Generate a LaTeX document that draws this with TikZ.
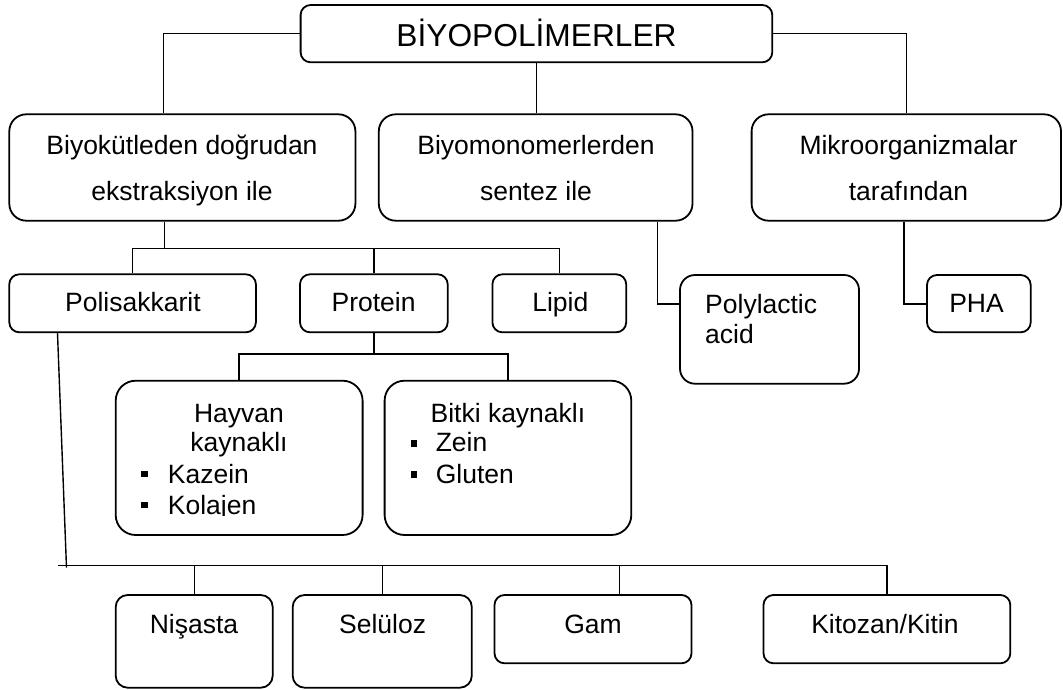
\documentclass[tikz,border=0pt]{standalone}
\usepackage{fontspec}
\setmainfont{Liberation Sans}
\usetikzlibrary{fit}
\tikzset{
 box/.style={draw, line width=1.8pt, inner sep=0pt, rounded corners=#1},
 box/.default=10pt,
 conn/.style={line width=1.4pt},
 txt/.style={anchor=base, inner sep=0pt, font=\fontsize{26.5}{30}\selectfont},
 txtl/.style={txt, anchor=base west},
 ttl/.style={anchor=base, inner sep=0pt, font=\fontsize{31.7}{36}\selectfont},
 bul/.style={fill, inner sep=0pt, minimum size=6.6pt},
}
\begin{document}
\begin{tikzpicture}[x=1pt,y=-1pt]
\useasboundingbox (0,0) rectangle (1063,689);
% boxes
\node[box=10pt, fit={(300.6,5) (772.3,62.3)}] (top) {};
\node[box=17pt, fit={(9.3,114.3) (355.4,220.7)}] (bk) {};
\node[box=17pt, fit={(378.8,114.3) (692.5,220.7)}] (bm) {};
\node[box=17pt, fit={(751.6,114.3) (1061,220.7)}] (mk) {};
\node[box, fit={(9.3,274.3) (255.9,332.3)}] (ps) {};
\node[box, fit={(300,274.3) (447.7,332.3)}] (pr) {};
\node[box, fit={(492.4,274.3) (626.2,332.3)}] (lp) {};
\node[box=15pt, fit={(680,275) (859,383.7)}] (pl) {};
\node[box, fit={(927,275) (1030.7,332.3)}] (pha) {};
\node[box=20pt, fit={(115.7,380.7) (362.6,535)}] (hv) {};
\node[box=20pt, fit={(384.6,380.7) (631.3,535)}] (bt) {};
\node[box=12pt, fit={(115.7,595) (272.7,687.7)}] (ns) {};
\node[box=12pt, fit={(292.7,595) (471.8,687.7)}] (sl) {};
\node[box, fit={(494.5,595) (691.5,663.3)}] (gm) {};
\node[box, fit={(763.5,595) (1010.3,663.3)}] (kt) {};
% connectors
\coordinate (jL) at (163.6,114.3);
\draw[conn] (top.west) -| (bk.north -| jL);
\draw[conn] (top.south) -- (top.south |- bm.north);
\draw[conn] (top.east) -| (mk.north);
\coordinate (b1) at (164.3,248.3);
\draw[conn] (bk.south -| b1) -- (b1);
\draw[conn] (ps.north) |- (b1);
\draw[conn] (b1) -| (lp.north);
\draw[conn] (pr.north) -- (pr.north |- b1);
\coordinate (b2) at (374.7,354);
\draw[conn] (pr.south) -- (pr.south |- b2);
\draw[conn] (hv.north) |- (pr.south |- b2) -| (bt.north);
\coordinate (c3) at (657.5,304);
\draw[conn] (bm.south -| c3) -- (c3) -- (c3 -| pl.west);
\coordinate (c4) at (903.9,304);
\draw[conn] (mk.south -| c4) -- (c4) -- (pha.west |- c4);
\coordinate (s0) at (57.5,332.3);
\coordinate (s1) at (66.5,567.7);
\draw[conn] (ps.south -| s0) -- (s1);
\coordinate (b3) at (58,565.3);
\draw[conn] (b3) -- (b3 -| kt.north) -- (kt.north);
\draw[conn] (ns.north) -- (ns.north |- b3);
\draw[conn] (sl.north) -- (sl.north |- b3);
\coordinate (g1) at (619.4,565.3);
\draw[conn] (g1) -- (gm.north -| g1);
% texts
\node[ttl] (tTop) at (536.5,46.7) {BİYOPOLİMERLER};
\node[txt] (tBk1) at (182,154) {Biyokütleden doğrudan};
\node[txt] (tBk2) at (182,200) {ekstraksiyon ile};
\node[txt] (tBm1) at (536,154) {Biyomonomerlerden};
\node[txt] (tBm2) at (536,200) {sentez ile};
\node[txt] (tMk1) at (908.5,154) {Mikroorganizmalar};
\node[txt] (tMk2) at (908.5,200) {tarafından};
\node[txt] (tPs) at (132.9,311.7) {Polisakkarit};
\node[txt] (tPr) at (373.6,311.7) {Protein};
\node[txt] (tLp) at (560.3,311.7) {Lipid};
\node[txtl] (tPl1) at (705,313) {Polylactic};
\node[txtl] (tPl2) at (705,343) {acid};
\node[txt] (tPha) at (976.5,312) {PHA};
\node[txt] (tHv1) at (239,422.7) {Hayvan};
\node[txt] (tHv2) at (239,451.7) {kaynaklı};
\node[bul] (bu1) at (144.6,474) {};
\node[txtl] (tKaz) at (167.7,483.3) {Kazein};
\node[bul] (bu2) at (144.6,505) {};
\begin{scope}
\clip (150,488) rectangle (320,515.6);
\node[txtl] (tKol) at (167.7,514) {Kolajen};
\end{scope}
\node[txtl] (tBt) at (430.4,422.7) {Bitki kaynaklı};
\node[bul] (bu3) at (413.9,443.3) {};
\node[txtl] (tZe) at (435.6,451.7) {Zein};
\node[bul] (bu4) at (413.9,474.7) {};
\node[txtl] (tGl) at (435.6,483.3) {Gluten};
\node[txt] (tNs) at (194,633.3) {Nişasta};
\node[txt] (tSl) at (382.6,633.3) {Selüloz};
\node[txt] (tGm) at (593,633.3) {Gam};
\node[txt] (tKt) at (884.9,633.3) {Kitozan/Kitin};
\end{tikzpicture}
\end{document}
